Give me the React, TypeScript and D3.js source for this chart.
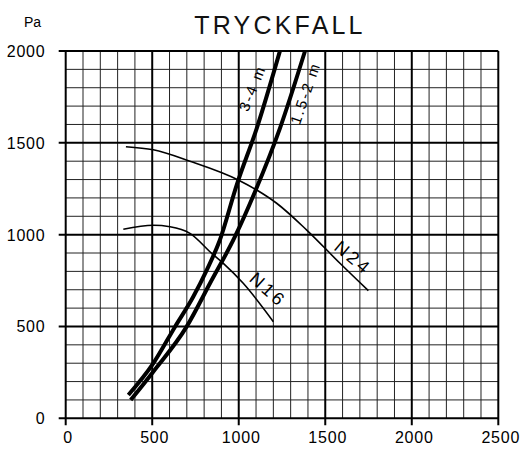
import React from 'react';
import * as d3 from 'd3';

// flow (x) and pressure drop in Pa (y)
const flowTicks = [0, 500, 1000, 1500, 2000, 2500];
const paTicks = [0, 500, 1000, 1500, 2000];

const curve34m: [number, number][] = [
  [362, 127], [506, 299], [632, 499], [737, 662], [815, 807],
  [891, 971], [988, 1270], [1104, 1579], [1238, 2000],
];
const curve152m: [number, number][] = [
  [376, 100], [506, 254], [699, 499], [834, 735], [978, 989],
  [1094, 1234], [1238, 1579], [1383, 2000],
];
const fanN24: [number, number][] = [
  [348, 1479], [506, 1462], [718, 1400], [997, 1298], [1104, 1243],
  [1219, 1171], [1393, 1025], [1585, 844], [1749, 695],
];
const fanN16: [number, number][] = [
  [333, 1029], [506, 1051], [603, 1043], [718, 1007], [844, 898],
  [911, 844], [1026, 735], [1200, 526],
];

const labelNames = ['3-4 m', '1.5-2 m', 'N24', 'N16'];
const labelAt: [number, number][] = [[1077, 1798], [1383, 1771], [1660, 873], [1169, 699]];
const labelAngle = [-68, -71, 40, 42];

const W = 524;
const H = 450;
const font = 'Liberation Sans, Arial, sans-serif';

const App: React.FC = () => {
  const x = d3.scaleLinear().domain([0, 2500]).range([65.7, 498.3]);
  const y = d3.scaleLinear().domain([0, 2000]).range([418.3, 51]);

  const line = d3
    .line<[number, number]>()
    .x(d => x(d[0]))
    .y(d => y(d[1]))
    .curve(d3.curveMonotoneX);

  const minorX = d3.range(0, 2501, 100);
  const minorY = d3.range(0, 2001, 100);

  return (
    <svg
      width={W}
      height={H}
      style={{ position: 'absolute', left: 0, top: 0, background: '#fff' }}
      fontFamily={font}
    >
      {/* minor grid */}
      {minorX.filter(v => v % 500 !== 0).map(v => (
        <line key={'vx' + v} x1={x(v)} x2={x(v)} y1={y(0)} y2={y(2000)} stroke="#222" strokeWidth={1} />
      ))}
      {minorY.filter(v => v % 500 !== 0).map(v => (
        <line key={'hy' + v} x1={x(0)} x2={x(2500)} y1={y(v)} y2={y(v)} stroke="#222" strokeWidth={1} />
      ))}
      {/* major grid */}
      {flowTicks.map(v => (
        <line key={'MX' + v} x1={x(v)} x2={x(v)} y1={y(0) + 7} y2={y(2000)} stroke="#000" strokeWidth={2} />
      ))}
      {paTicks.map(v => (
        <line key={'MY' + v} x1={x(0) - 7} x2={x(2500)} y1={y(v)} y2={y(v)} stroke="#000" strokeWidth={2} />
      ))}

      {/* fan curves */}
      <path d={line(fanN24) || ''} fill="none" stroke="#000" strokeWidth={1.6} />
      <path d={line(fanN16) || ''} fill="none" stroke="#000" strokeWidth={1.6} />
      {/* duct curves */}
      <path d={line(curve34m) || ''} fill="none" stroke="#000" strokeWidth={4} />
      <path d={line(curve152m) || ''} fill="none" stroke="#000" strokeWidth={4} />

      {/* curve labels */}
      {labelNames.map((t, i) => (
        <text
          key={t}
          transform={`translate(${x(labelAt[i][0])},${y(labelAt[i][1])}) rotate(${labelAngle[i]})`}
          textAnchor="middle"
          dominantBaseline="central"
          fontSize={i < 2 ? 15 : 18}
          letterSpacing={i < 2 ? 2 : 3}
          fill="#000"
        >
          {t}
        </text>
      ))}

      {/* tick labels */}
      {paTicks.map(v => (
        <text key={'ty' + v} x={45.5} y={y(v) + 6} textAnchor="end" fontSize={16} letterSpacing={0.8} fill="#000">
          {v}
        </text>
      ))}
      {flowTicks.map(v => (
        <text key={'tx' + v} x={x(v) + 2.5} y={443} textAnchor="middle" fontSize={16} letterSpacing={0.8} fill="#000">
          {v}
        </text>
      ))}

      <text x={24} y={27} fontSize={14} fill="#000">Pa</text>
      <text x={280} y={34} textAnchor="middle" fontSize={25} letterSpacing={3.2} fill="#111">
        TRYCKFALL
      </text>
    </svg>
  );
};

export default App;
